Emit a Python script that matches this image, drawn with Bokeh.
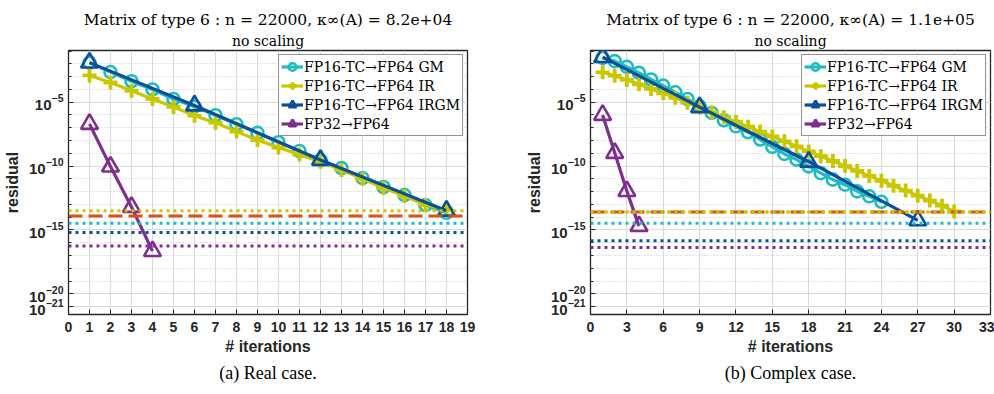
from bokeh.plotting import figure
from bokeh.models import FixedTicker, Title, Legend, LegendItem, Range1d
from bokeh.layouts import row
from bokeh.embed import file_html
from bokeh.resources import INLINE

# ---------------- data: real case ----------------
real_gm_it = list(range(1, 19))
real_gm_res = [1.26e-2, 2.3e-3, 4.4e-4, 1.0e-4, 1.8e-5, 4.5e-6, 9.5e-7, 1.9e-7, 4.0e-8,
               7.4e-9, 1.5e-9, 3.0e-10, 6.9e-11, 1.15e-11, 2.3e-12, 5.4e-13, 8.9e-14, 2.2e-14]
real_ir_it = list(range(1, 19))
real_ir_res = [1.26e-3, 3.5e-4, 7.9e-5, 1.8e-5, 4.3e-6, 8.9e-7, 2.5e-7, 5.0e-8, 1.1e-8,
               2.8e-9, 7.9e-10, 2.2e-10, 5.0e-11, 1.0e-11, 1.9e-12, 4.5e-13, 8.9e-14, 4.0e-14]
real_irgm_it = [1, 6, 12, 18]
real_irgm_res = [1.26e-2, 5.6e-6, 3.0e-10, 3.2e-14]
real_fp32_it = [1, 2, 3, 4]
real_fp32_res = [2.0e-7, 9.1e-11, 6.3e-14, 2.2e-17]
real_thr = {"ir": 3.2e-14, "fp64": 1.26e-14, "gm": 3.3e-15, "irgm": 6.3e-16, "fp32": 5.6e-17}

# ---------------- data: complex case ----------------
cplx_gm_it = list(range(1, 25))
cplx_gm_res = [2.95e-2, 1.66e-2, 5.9e-3, 2.0e-3, 6.0e-4, 2.0e-4, 6.0e-5, 1.8e-5, 4.9e-6,
               1.45e-6, 3.9e-7, 1.3e-7, 4.5e-8, 1.2e-8, 3.2e-9, 8.9e-10, 3.2e-10, 9.5e-11,
               2.8e-11, 8.7e-12, 3.5e-12, 1.05e-12, 4.3e-13, 1.6e-13]
cplx_ir_it = list(range(1, 31))
cplx_ir_res = [2.2e-3, 1.2e-3, 5.6e-4, 2.5e-4, 1.1e-4, 5.0e-5, 2.2e-5, 9.3e-6, 3.8e-6,
               1.6e-6, 6.8e-7, 2.8e-7, 1.2e-7, 5.0e-8, 2.1e-8, 8.7e-9, 3.5e-9, 1.4e-9,
               6.0e-10, 2.5e-10, 1.0e-10, 4.2e-11, 1.7e-11, 7.1e-12, 2.9e-12, 1.2e-12,
               4.8e-13, 2.0e-13, 7.9e-14, 2.8e-14]
cplx_irgm_it = [1, 9, 18, 27]
cplx_irgm_res = [3.4e-2, 4.1e-6, 2.2e-10, 5.6e-15]
cplx_fp32_it = [1, 2, 3, 4]
cplx_fp32_res = [1.0e-6, 1.07e-9, 1.1e-12, 2.0e-15]
cplx_thr = {"ir": 2.5e-14, "fp64": 2.5e-14, "gm": 3.4e-15, "irgm": 1.4e-16, "fp32": 4.3e-17}

labels = ["FP16-TC\u2192FP64 GM", "FP16-TC\u2192FP64 IR", "FP16-TC\u2192FP64 IRGM", "FP32\u2192FP64"]
y_major = [1e-21, 1e-20, 1e-15, 1e-10, 1e-5]
y_minor = [10.0 ** e for e in range(-22, 0)]

C_GM = "#1EBCC0"
C_IR = "#C9C800"
C_IRGM = "#0B4F98"
C_FP32 = "#7E2F8E"
C_FP64 = "#D95319"
INK = "#262626"


def panel(title, caption, xmax, xstep, gm, ir, irgm, fp32, thr, width, left, right):
    p = figure(width=width, height=394, y_axis_type="log",
               x_range=Range1d(0, xmax), y_range=Range1d(10 ** -21.62, 10 ** -0.95),
               output_backend="svg", toolbar_location=None,
               min_border_left=left, min_border_right=right,
               min_border_top=50, min_border_bottom=80)
    p.background_fill_color = "white"
    p.border_fill_color = "white"
    p.outline_line_color = INK
    p.outline_line_width = 1.3

    p.xaxis.ticker = FixedTicker(ticks=list(range(0, xmax + 1, xstep)))
    p.yaxis.ticker = FixedTicker(ticks=y_major, minor_ticks=y_minor)
    for ax in (p.xaxis[0], p.yaxis[0]):
        ax.axis_line_color = None
        ax.major_tick_in = 5
        ax.major_tick_out = 0
        ax.minor_tick_in = 3
        ax.minor_tick_out = 0
        ax.major_tick_line_color = INK
        ax.minor_tick_line_color = INK
        ax.major_label_text_font = "Liberation Sans"
        ax.major_label_text_font_style = "bold"
        ax.major_label_text_color = INK
        ax.axis_label_text_font = "Liberation Sans"
        ax.axis_label_text_font_style = "bold"
        ax.axis_label_text_font_size = "16px"
        ax.axis_label_text_color = INK
    p.xaxis.major_label_text_font_size = "14px"
    p.yaxis.major_label_text_font_size = "15px"
    p.xaxis.major_label_standoff = 7
    p.xaxis.axis_label = "# iterations"
    p.xaxis.axis_label_standoff = 3
    p.yaxis.axis_label = "residual"
    p.yaxis.major_label_standoff = 5
    p.yaxis.axis_label_standoff = 5

    p.xgrid.grid_line_color = "#d9d9d9"
    p.ygrid.grid_line_color = "#d9d9d9"
    p.ygrid.minor_grid_line_color = "#c8c8c8"
    p.ygrid.minor_grid_line_dash = "1 2"

    items = []
    specs = [(gm, C_GM, "circle", 12, 2.6), (ir, C_IR, "cross", 14, 3.8),
             (irgm, C_IRGM, "triangle", 17, 2.6), (fp32, C_FP32, "triangle", 17, 2.6)]
    for (xs, ys), col, mk, sz, mlw in specs:
        l = p.line(xs, ys, line_color=col, line_width=3.2)
        m = p.scatter(xs, ys, marker=mk, size=sz, line_color=col, fill_color=None, line_width=mlw)
        items.append([l, m])

    lw = 3
    p.line([0, xmax], [thr["ir"]] * 2, line_color=C_IR, line_width=lw, line_dash="3 4")
    p.line([0, xmax], [thr["fp64"]] * 2, line_color=C_FP64, line_width=lw, line_dash="14 6")
    if thr["ir"] == thr["fp64"]:
        p.line([0, xmax], [thr["ir"]] * 2, line_color=C_IR, line_width=lw, line_dash="3 4")
    p.line([0, xmax], [thr["gm"]] * 2, line_color=C_GM, line_width=lw, line_dash="3 4")
    p.line([0, xmax], [thr["irgm"]] * 2, line_color=C_IRGM, line_width=lw, line_dash="3 4")
    p.line([0, xmax], [thr["fp32"]] * 2, line_color=C_FP32, line_width=lw, line_dash="3 4")

    legend = Legend(items=[LegendItem(label=lab, renderers=r) for lab, r in zip(labels, items)],
                    location="top_right")
    legend.label_text_font = "DejaVu Serif"
    legend.label_text_font_size = "14px"
    legend.label_text_color = "black"
    legend.border_line_color = INK
    legend.border_line_width = 1.3
    legend.margin = 4
    legend.padding = 2
    legend.spacing = 0
    legend.glyph_width = 22
    legend.glyph_height = 19
    legend.label_height = 19
    legend.label_standoff = 1
    p.add_layout(legend, "center")

    p.add_layout(Title(text="no scaling", align="center", text_font="DejaVu Serif",
                       text_font_size="14px", text_font_style="normal", text_color="black",
                       standoff=4), "above")
    p.add_layout(Title(text=title, align="center", text_font="DejaVu Serif",
                       text_font_size="15.5px", text_font_style="normal", text_color="black",
                       standoff=0), "above")
    p.add_layout(Title(text=caption, align="center", text_font="Liberation Serif",
                       text_font_size="18px", text_font_style="normal", text_color="black",
                       standoff=6), "below")
    return p


p1 = panel("Matrix of type 6 : n = 22000, \u03ba\u221e(A) = 8.2e+04", "(a) Real case.", 19, 1,
           (real_gm_it, real_gm_res), (real_ir_it, real_ir_res),
           (real_irgm_it, real_irgm_res), (real_fp32_it, real_fp32_res), real_thr,
           497, 68, 30)
p2 = panel("Matrix of type 6 : n = 22000, \u03ba\u221e(A) = 1.1e+05", "(b) Complex case.", 33, 3,
           (cplx_gm_it, cplx_gm_res), (cplx_ir_it, cplx_ir_res),
           (cplx_irgm_it, cplx_irgm_res), (cplx_fp32_it, cplx_fp32_res), cplx_thr,
           497, 93, 4)

layout = row(p1, p2)
open("out.html", "w").write(file_html(layout, INLINE))
